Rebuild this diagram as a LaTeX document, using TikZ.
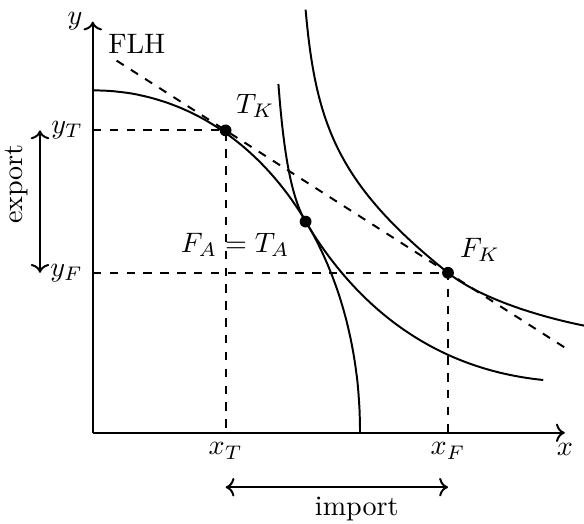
\documentclass[tikz,border=0pt]{standalone}
\usepackage{amsmath}
\usepackage{tikz}
\usetikzlibrary{arrows.meta,positioning,calc}
\tikzset{
    axis/.style={->, line width=0.7pt},
    curve/.style={line width=0.7pt},
    guide/.style={dashed, line width=0.7pt},
    dot/.style={circle, fill=black, inner sep=0pt, minimum size=4.2pt},
    span/.style={<->, line width=0.7pt},
    lbl/.style={font=\normalsize},
}
\begin{document}
\begin{tikzpicture}
    \useasboundingbox (-1.16,-1.14) rectangle (6.14,5.41);
    % points
    \coordinate (O) at (0,0);
    \coordinate (T) at (1.66,3.78);
    \coordinate (A) at (2.66,2.64);
    \coordinate (F) at (4.44,2.0);
    \coordinate (ex) at (-0.66,0);
    \coordinate (im) at (0,-0.68);

    % guides and price line
    \draw[guide] (T -| O) -- (T) -- (T |- O);
    \draw[guide] (F -| O) -- (F) -- (F |- O);
    \draw[guide] ($(T)!-0.49!(F)$) -- ($(F)!-0.54!(T)$);

    % axes
    \draw[axis] (O) -- (5.9,0) node[lbl, below] (xlab) {$x$};
    \draw[axis] (O) -- (0,5.14) node[lbl, left] (ylab) {$y$};

    % FLH
    \draw[curve] plot[domain=0.01:89.99, samples=120]
        ({3.34*pow(cos(\x),0.9756)}, {4.28*pow(sin(\x),0.9756)});
    % indifference curves
    \draw[curve] (2.32,4.36) .. controls (2.374,3.66) and (2.455,2.98) .. (A)
        .. controls (3.22,1.70) and (4.14,0.81) .. (5.63,0.66);
    \draw[curve] (2.66,5.29) .. controls (2.786,3.853) and (3.061,3.1035) .. (F)
        .. controls (4.83,1.6875) and (5.551,1.458) .. (6.14,1.34);

    \node[dot] (Tdot) at (T) {};
    \node[dot] (Adot) at (A) {};
    \node[dot] (Fdot) at (F) {};

    % labels
    \node[lbl] (flh) at (0.55,4.86) {FLH};
    \node[lbl] (tk) at (2.03,4.09) {$T_K$};
    \node[lbl] (fa) at (1.78,2.35) {$F_A = T_A$};
    \node[lbl] (fk) at (4.84,2.29) {$F_K$};
    \node[lbl, left] (yT) at (T -| O) {$y_T$};
    \node[lbl, left] (yF) at (F -| O) {$y_F$};
    \node[lbl, below] (xT) at (T |- O) {$x_T$};
    \node[lbl, below] (xF) at (F |- O) {$x_F$};

    % export / import
    \draw[span] (T -| ex) -- (F -| ex);
    \node[lbl, rotate=90] (exp) at (-0.95,3.11) {export};
    \draw[span] (T |- im) -- (F |- im);
    \node[lbl, below] (imp) at (3.3,-0.68) {import};
\end{tikzpicture}
\end{document}
